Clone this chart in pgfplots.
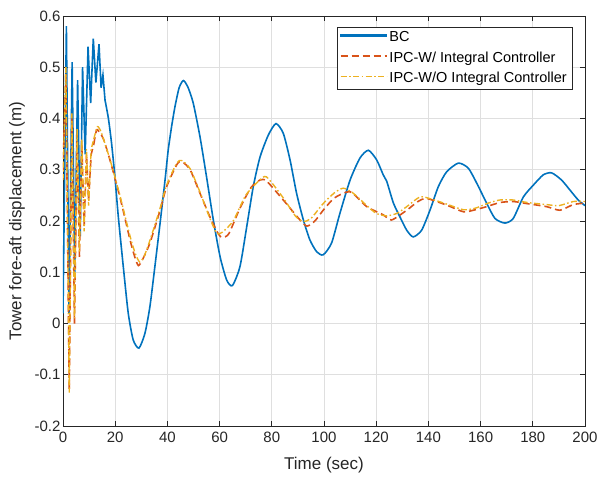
\documentclass[border=0pt]{standalone}
\usepackage{fontspec}
\setmainfont{Liberation Sans}
\usepackage{pgfplots}
\pgfplotsset{compat=1.18}
\definecolor{mBlue}{HTML}{0072BD}
\definecolor{mOrange}{HTML}{D95319}
\definecolor{mYellow}{HTML}{EDB120}
\definecolor{mAxis}{HTML}{262626}
\definecolor{mGrid}{HTML}{DFDFDF}

\begin{document}
\begin{tikzpicture}
\begin{axis}[
  scale only axis,
  width=522pt, height=410pt,
  xmin=0, xmax=200, ymin=-0.2, ymax=0.6,
  xtick={0,20,...,200},
  ytick={-0.2,-0.1,0,0.1,0.2,0.3,0.4,0.5,0.6},
  yticklabels={-0.2,-0.1,0,0.1,0.2,0.3,0.4,0.5,0.6},
  grid=major,
  major grid style={mGrid, line width=0.7pt},
  axis line style={mAxis, line width=0.7pt},
  tick style={mAxis, line width=0.7pt},
  tick align=inside,
  major tick length=5pt,
  /pgf/number format/assume math mode=true,
  ticklabel style={font=\fontsize{15}{17}\selectfont, text=mAxis},
  xticklabel style={yshift=-2pt},
  yticklabel style={xshift=1pt},
  xlabel={Time (sec)},
  ylabel={Tower fore-aft displacement (m)},
  every axis x label/.style={at={(axis description cs:0.5,-0.095)}, anchor=center,
    font=\fontsize{17}{19}\selectfont, text=mAxis},
  every axis y label/.style={at={(axis description cs:-0.088,0.5)}, rotate=90, anchor=center,
    font=\fontsize{17}{19}\selectfont, text=mAxis},
  legend style={at={(0.975,0.973)}, anchor=north east, draw=mAxis,
    font=\fontsize{14.5}{17}\selectfont, text=black, inner xsep=3pt, inner ysep=2.5pt,
    row sep=4.5pt},
  legend cell align=left,
]
\addlegendimage{legend image code/.code={\fill[mBlue] (0pt,1.2pt) rectangle (46pt,3pt);}}
\addlegendentry{BC}
\addlegendimage{legend image code/.code={\draw[mOrange, line width=1.6pt, dash pattern=on 7pt off 4pt] (0pt,2pt) -- (46pt,2pt);}}
\addlegendentry{IPC-W/ Integral Controller}
\addlegendimage{legend image code/.code={\draw[mYellow, line width=1.5pt, dash pattern=on 6pt off 2.5pt on 1.5pt off 2.5pt] (0pt,2pt) -- (46pt,2pt);}}
\addlegendentry{IPC-W/O Integral Controller}
% BC
\addplot[draw=mBlue, line width=1.6pt, forget plot] coordinates {
(0,0.02)(1.3,0.58)(2.3,0.02)(3.5,0.51)(4.5,0.10)(5.6,0.475)(6.6,0.17)(7.5,0.50)(8.5,0.33)
(9.6,0.54)(10.6,0.43)(11.6,0.556)(12.6,0.47)(13.8,0.545)(14.6,0.46)(15.3,0.485)(16.1,0.436)
};
\addplot[draw=mBlue, line width=1.6pt, smooth, tension=0.4, forget plot] coordinates {
(16.1,0.436)
(17.4,0.40)(18.6,0.352)(19.9,0.286)(21.2,0.208)(23.1,0.111)(25,0.02)(26.9,-0.032)(29.1,-0.048)
(31.4,-0.019)(33.3,0.033)(35.2,0.111)(37.2,0.196)(39.1,0.28)(40.3,0.338)(41.6,0.384)(42.9,0.423)
(44.5,0.46)(46.1,0.474)(47.8,0.462)(49.9,0.43)(52.5,0.364)(55,0.286)(57.6,0.202)(60.2,0.13)
(62.7,0.085)(64.9,0.074)(67.8,0.111)(70.4,0.189)(72.9,0.267)(75.5,0.325)(78.7,0.368)(81.6,0.39)
(84.4,0.371)(87,0.319)(89.5,0.254)(92.1,0.202)(94.6,0.163)(97.2,0.14)(99.7,0.134)(102.9,0.157)
(106.1,0.215)(110,0.28)(113.8,0.323)(117,0.338)(120.2,0.319)(122.7,0.29)(124,0.278)(126.6,0.235)
(129.1,0.208)(131.7,0.182)(134.2,0.169)(137.4,0.182)(140.6,0.221)(143.8,0.267)(147,0.296)
(151.5,0.313)(155.3,0.303)(158.5,0.274)(162.3,0.235)(165.5,0.205)(169.3,0.196)(172.5,0.205)
(176.4,0.247)(180.2,0.27)(184,0.29)(187.2,0.294)(191,0.28)(194.3,0.26)(197.4,0.241)(200,0.23)
};
% IPC with integral controller
\addplot[draw=mOrange, line width=1.6pt, dash pattern=on 7pt off 4pt, forget plot] coordinates {
(0,0.30)(1.1,0.49)(2.4,-0.13)(3.4,0.40)(4.4,0.0)(5.4,0.37)(6.3,0.13)(7.2,0.35)(8.1,0.19)
(9.0,0.33)(9.8,0.24)(10.8,0.33)(11.8,0.35)
};
\addplot[draw=mOrange, line width=1.6pt, dash pattern=on 7pt off 4pt, smooth, tension=0.4, forget plot] coordinates {
(11.8,0.35)(12.9,0.378)(14.2,0.371)(15.5,0.36)(18,0.319)
(21.8,0.247)(25.7,0.163)(27.5,0.13)(28.9,0.113)(30.5,0.125)(33.3,0.157)(37.2,0.221)(39.7,0.267)
(43.6,0.31)(45.5,0.316)(48.7,0.3)(52.5,0.254)(56.3,0.208)(59.5,0.175)(61,0.168)(63.5,0.175)
(67.8,0.225)(72,0.265)(75.5,0.28)(78,0.278)(84.4,0.241)(90.8,0.202)(93.5,0.19)(96.5,0.2)
(99.7,0.221)(104,0.245)(110,0.257)(116.4,0.228)(122.7,0.212)(125.9,0.202)(131.7,0.221)
(136,0.238)(139.3,0.244)(147,0.231)(153.4,0.218)(157.2,0.221)(162.3,0.228)(167.4,0.236)
(172.5,0.238)(177.7,0.234)(185.3,0.228)(190.4,0.221)(195.5,0.232)(200,0.235)
};
% IPC without integral controller
\addplot[draw=mYellow, line width=1.4pt, dash pattern=on 6pt off 2.5pt on 1.5pt off 2.5pt, forget plot] coordinates {
(0,0.28)(1.1,0.50)(2.4,-0.135)(3.4,0.41)(4.4,0.01)(5.4,0.38)(6.3,0.14)(7.2,0.36)(8.1,0.18)
(9.0,0.34)(9.8,0.23)(10.8,0.34)(11.8,0.36)
};
\addplot[draw=mYellow, line width=1.4pt, dash pattern=on 6pt off 2.5pt on 1.5pt off 2.5pt, smooth, tension=0.4, forget plot] coordinates {
(11.8,0.36)(13.2,0.384)(14.5,0.375)(15.5,0.36)(18,0.32)
(21.8,0.25)(25.7,0.17)(27.8,0.135)(29.4,0.12)(31,0.13)(33.3,0.162)(37.2,0.225)(39.7,0.27)
(43.6,0.313)(45.5,0.318)(48.7,0.302)(52.5,0.256)(56.3,0.205)(58.9,0.176)(61,0.178)(65.2,0.2)
(70,0.25)(75,0.278)(78,0.286)(84.4,0.245)(89,0.21)(92,0.199)(95,0.205)(99.7,0.234)(104,0.255)
(107.4,0.264)(111,0.255)(116.4,0.23)(120,0.215)(124,0.21)(128,0.215)(131.7,0.228)(136.8,0.247)
(141,0.243)(147,0.233)(153.4,0.222)(158,0.225)(163,0.235)(167.4,0.241)(172.5,0.241)(178,0.236)
(185.3,0.232)(190,0.23)(195.5,0.238)(200,0.238)
};
\end{axis}
\pgfresetboundingbox
\path (-63pt,-53pt) rectangle (537pt,426pt);
\end{tikzpicture}
\end{document}
